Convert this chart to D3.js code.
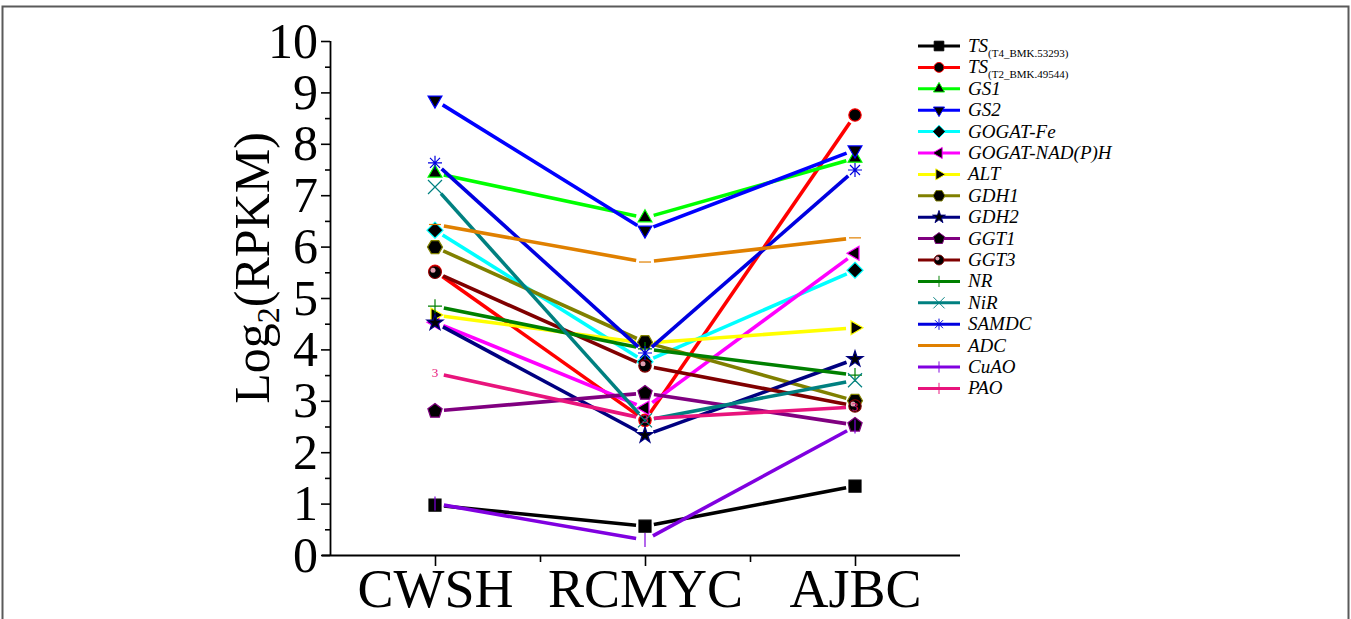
<!DOCTYPE html>
<html>
<head>
<meta charset="utf-8">
<script src="https://cdn.jsdelivr.net/npm/d3@7"></script>
<style>
  body { margin: 0; background: #fff; }
  svg text { font-family: "Liberation Serif", "Times New Roman", serif; }
</style>
</head>
<body>
<div id="chart"></div>
<script>
const kWidth = 1351;
const kHeight = 619;

// categories (x) and one value list per gene, in CWSH / RCMYC / AJBC order
const sites = ["CWSH", "RCMYC", "AJBC"];
const yTicks = [0, 1, 2, 3, 4, 5, 6, 7, 8, 9, 10];

const tsT4   = [0.97, 0.56, 1.34];
const tsT2   = [5.52, 2.62, 8.56];
const gs1    = [7.43, 6.56, 7.72];
const gs2    = [8.85, 6.32, 7.88];
const gogatFe  = [6.32, 3.76, 5.54];
const gogatNad = [4.53, 2.86, 5.87];
const alt    = [4.67, 4.12, 4.42];
const gdh1   = [5.99, 4.14, 3.0];
const gdh2   = [4.52, 2.33, 3.81];
const ggt1   = [2.8, 3.15, 2.53];
const ggt3   = [5.5, 3.68, 2.9];
const nr     = [4.84, 4.01, 3.5];
const nir    = [7.16, 2.62, 3.4];
const samdc  = [7.63, 3.93, 7.49];
const adc    = [6.43, 5.7, 6.17];
const cuao   = [1.0, 0.29, 2.5];
const pao    = [3.54, 2.65, 2.88];

const series = [
  { name: "TS", sub: "(T4_BMK.53293)", values: tsT4, color: "#000000", marker: "square" },
  { name: "TS", sub: "(T2_BMK.49544)", values: tsT2, color: "#ff0000", marker: "circle" },
  { name: "GS1", values: gs1, color: "#00ff00", marker: "up" },
  { name: "GS2", values: gs2, color: "#0000ff", marker: "down" },
  { name: "GOGAT-Fe", values: gogatFe, color: "#00ffff", marker: "diamond" },
  { name: "GOGAT-NAD(P)H", values: gogatNad, color: "#ff00ff", marker: "left" },
  { name: "ALT", values: alt, color: "#ffff00", marker: "right" },
  { name: "GDH1", values: gdh1, color: "#808000", marker: "hexagon" },
  { name: "GDH2", values: gdh2, color: "#000080", marker: "star" },
  { name: "GGT1", values: ggt1, color: "#800080", marker: "pentagon" },
  { name: "GGT3", values: ggt3, color: "#800000", marker: "halfcircle" },
  { name: "NR", values: nr, color: "#008000", marker: "plus" },
  { name: "NiR", values: nir, color: "#008080", marker: "x" },
  { name: "SAMDC", values: samdc, color: "#0000e0", marker: "asterisk" },
  { name: "ADC", values: adc, color: "#e08000", marker: "dash" },
  { name: "CuAO", values: cuao, color: "#8000e0", marker: "bar" },
  { name: "PAO", values: pao, color: "#e8147c", marker: "three" }
];

const svg = d3.select("#chart").append("svg")
  .attr("width", kWidth)
  .attr("height", kHeight);

// outer frame
svg.append("rect")
  .attr("x", 2.5).attr("y", 6.5)
  .attr("width", 1346).attr("height", 640)
  .attr("fill", "none")
  .attr("stroke", "#5a5a5a")
  .attr("stroke-width", 2);

const xScale = d3.scaleLinear().domain([0.5, 3.5]).range([330, 960]);
const yScale = d3.scaleLinear().domain([0, 10]).range([555, 41]);

// minor ticks first, then major axes on top
svg.append("g")
  .attr("transform", `translate(0, ${yScale(0)})`)
  .call(d3.axisBottom(xScale).tickValues([1.5, 2.5]).tickSize(7).tickFormat(""))
  .call(g => g.select(".domain").remove())
  .selectAll("line").attr("stroke-width", 1.6);

svg.append("g")
  .attr("transform", `translate(${xScale(0.5)}, 0)`)
  .call(d3.axisLeft(yScale).tickValues(d3.range(0.5, 10, 1)).tickSize(5).tickFormat(""))
  .call(g => g.select(".domain").remove())
  .selectAll("line").attr("stroke-width", 1.6);

const xAxis = svg.append("g")
  .attr("transform", `translate(0, ${yScale(0)})`)
  .call(d3.axisBottom(xScale).tickValues([1, 2, 3]).tickSize(11).tickPadding(3)
    .tickFormat(d => sites[d - 1]))
  .call(g => g.select(".domain").attr("d", `M${xScale(0.5) - 8},0.5H${xScale(3.5)}`));
xAxis.selectAll("line").attr("stroke-width", 1.6);
xAxis.select(".domain").attr("stroke-width", 1.8);
xAxis.selectAll("text")
  .attr("font-size", 54)
  .attr("font-family", "Liberation Serif")
  .attr("fill", "#000");

const yAxis = svg.append("g")
  .attr("transform", `translate(${xScale(0.5)}, 0)`)
  .call(d3.axisLeft(yScale).tickValues(yTicks).tickSize(9).tickPadding(3))
  .call(g => g.select(".domain").attr("d", `M0.5,${yScale(0)}V${yScale(10)}`));
yAxis.selectAll("line").attr("stroke-width", 1.6);
yAxis.select(".domain").attr("stroke-width", 1.8);
yAxis.selectAll("text")
  .attr("font-size", 50)
  .attr("font-family", "Liberation Serif")
  .attr("fill", "#000");

// y title
const yTitle = svg.append("text")
  .attr("transform", `translate(269, 268) rotate(-90)`)
  .attr("text-anchor", "middle")
  .attr("font-size", 50)
  .attr("fill", "#000");
yTitle.append("tspan").text("Log");
yTitle.append("tspan").attr("font-size", 32).attr("dy", 10).text("2");
yTitle.append("tspan").attr("dy", -10).text("(RPKM)");

function regular(n, r, rot) {
  const pts = d3.range(n).map(i => {
    const a = rot + i * 2 * Math.PI / n;
    return [r * Math.cos(a), r * Math.sin(a)];
  });
  return "M" + pts.map(p => p.join(",")).join("L") + "Z";
}

function drawMarker(g, type, color, cx, cy) {
  const m = g.append("g").attr("transform", `translate(${cx},${cy})`);
  const solid = (d) => m.append("path").attr("d", d)
    .attr("fill", "#000").attr("stroke", color).attr("stroke-width", 1.2);
  const thin = (d, w) => m.append("path").attr("d", d)
    .attr("fill", "none").attr("stroke", color).attr("stroke-width", w || 1.2);
  switch (type) {
    case "square": solid("M-6,-6H6V6H-6Z"); break;
    case "circle": solid(d3.symbol(d3.symbolCircle, 120)()); break;
    case "up": solid(regular(3, 8, -Math.PI / 2)); break;
    case "down": solid(regular(3, 8, Math.PI / 2)); break;
    case "diamond": solid("M0,-8L8,0L0,8L-8,0Z"); break;
    case "left": solid(regular(3, 8, Math.PI)); break;
    case "right": solid(regular(3, 8, 0)); break;
    case "hexagon": solid(regular(6, 7.5, 0)); break;
    case "star": solid(d3.symbol(d3.symbolStar, 80)()); break;
    case "pentagon": solid(regular(5, 7.5, -Math.PI / 2)); break;
    case "halfcircle":
      solid(d3.symbol(d3.symbolCircle, 120)());
      m.append("circle").attr("cx", -2).attr("cy", -2).attr("r", 2.5).attr("fill", "#e0a0b0");
      break;
    case "plus": thin("M-7,0H7M0,-7V7"); break;
    case "x": thin("M-7,-7L7,7M-7,7L7,-7"); break;
    case "asterisk": thin("M-7,0H7M0,-7V7M-5,-5L5,5M-5,5L5,-5"); break;
    case "dash": thin("M-6,0H6"); break;
    case "bar": thin("M0,-7V7"); break;
    case "three":
      m.append("text").attr("text-anchor", "middle").attr("dy", 4)
        .attr("font-size", 13).attr("font-family", "Liberation Sans")
        .attr("fill", color).text("3");
      break;
  }
}

const kGap = 9;
const plot = svg.append("g");

series.forEach(s => {
  const pts = s.values.map((v, i) => [xScale(i + 1), yScale(v)]);
  d3.pairs(pts).forEach(([a, b]) => {
    const dx = b[0] - a[0], dy = b[1] - a[1];
    const len = Math.hypot(dx, dy);
    const ux = dx / len, uy = dy / len;
    plot.append("line")
      .attr("x1", a[0] + ux * kGap).attr("y1", a[1] + uy * kGap)
      .attr("x2", b[0] - ux * kGap).attr("y2", b[1] - uy * kGap)
      .attr("stroke", s.color)
      .attr("stroke-width", 3.6);
  });
  pts.forEach(p => drawMarker(plot, s.marker, s.color, p[0], p[1]));
});

// legend
const legend = svg.append("g");
series.forEach((s, i) => {
  const y = 46 + i * 21.4;
  legend.append("line")
    .attr("x1", 918).attr("x2", 960)
    .attr("y1", y).attr("y2", y)
    .attr("stroke", s.color).attr("stroke-width", 3);
  const mk = s.marker === "three" ? "bar" : s.marker;
  const g = legend.append("g").attr("transform", `translate(939,${y}) scale(0.8)`);
  drawMarker(g, mk, s.color, 0, 0);
  const t = legend.append("text")
    .attr("x", 968).attr("y", y + 6)
    .attr("font-size", 19)
    .attr("font-style", "italic")
    .attr("fill", "#000");
  t.append("tspan").text(s.name);
  if (s.sub) {
    t.append("tspan").attr("font-style", "normal").attr("font-size", 11)
      .attr("dy", 5).text(s.sub);
  }
});
</script>
</body>
</html>
